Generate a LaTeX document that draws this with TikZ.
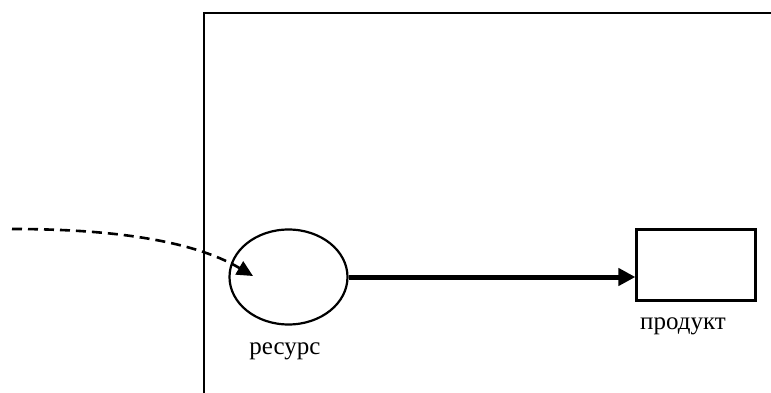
\documentclass[tikz,border=0pt]{standalone}
\usepackage{fontspec}
\setmainfont{Liberation Serif}
\usetikzlibrary{shapes.geometric,arrows.meta}
\begin{document}
\begin{tikzpicture}[x=1pt,y=-1pt,
  line/.style={draw=black,line width=2.2pt},
  lbl/.style={font=\fontsize{25}{28}\selectfont,inner sep=0pt}]
\useasboundingbox (0,0) rectangle (771,393);
% frame
\coordinate (fb) at (204,394);
\coordinate (ftl) at (204,13);
\coordinate (fr) at (772,13);
\draw[line] (fb) -- (ftl) -- (fr);
% nodes
\node[ellipse,line,minimum width=118pt,minimum height=95pt,inner sep=0pt] (res) at (288.5,277) {};
\node[rectangle,line,minimum width=119pt,minimum height=71pt,inner sep=0pt] (prod) at (696,265) {};
\node[lbl] (reslbl) at (285,351) {ресурс};
\node[lbl] (prodlbl) at (683,326) {продукт};
% connectors
\draw[line width=5pt,-{Triangle[length=17pt,width=17pt]}] (res.east) -- (res.east -| prod.west);
\coordinate (src) at (12,229);
\coordinate (tip) at (253,276);
\draw[line width=2.6pt,dash pattern=on 10pt off 6pt,-{Triangle[length=16pt,width=15pt]}]
  (src) .. controls (110,229) and (192,240) .. (tip);
\end{tikzpicture}
\end{document}
